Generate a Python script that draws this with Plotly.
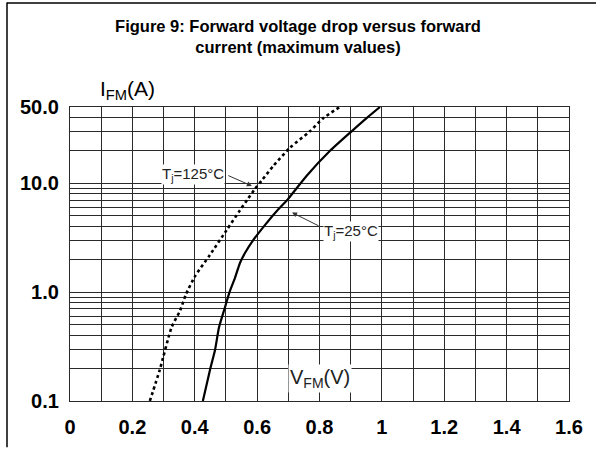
import math
import plotly.graph_objects as go

# ---- data ----
v_25 = [0.426, 0.449, 0.465, 0.478, 0.497, 0.511, 0.529, 0.545, 0.561, 0.588, 0.625, 0.668, 0.700, 0.759, 0.833, 0.903, 0.951, 0.994]
i_25 = [0.1, 0.194, 0.294, 0.477, 0.725, 0.99, 1.35, 1.85, 2.28, 3.01, 4.12, 5.75, 7.2, 11.7, 19.7, 29.9, 39.5, 50]

v_125 = [0.256, 0.288, 0.326, 0.353, 0.372, 0.401, 0.449, 0.502, 0.545, 0.571, 0.593, 0.614, 0.652, 0.705, 0.769, 0.812, 0.865]
i_125 = [0.1, 0.194, 0.477, 0.676, 0.956, 1.4, 2.2, 3.7, 5.63, 7.2, 8.85, 10.5, 14.4, 21.1, 29.9, 39.5, 50]

x_ticks = [0, 0.1, 0.2, 0.3, 0.4, 0.5, 0.6, 0.7, 0.8, 0.9, 1.0, 1.1, 1.2, 1.3, 1.4, 1.5, 1.6]
x_labels = ["0", "", "0.2", "", "0.4", "", "0.6", "", "0.8", "", "1", "", "1.2", "", "1.4", "", "1.6"]

y_ticks = [0.1, 0.2, 0.3, 0.4, 0.5, 0.6, 0.7, 0.8, 0.9,
           1, 2, 3, 4, 5, 6, 7, 8, 9,
           10, 20, 30, 40, 50]
y_label_map = {0.1: "0.1", 1: "1.0", 10: "10.0", 50: "50.0"}
y_labels = [y_label_map.get(v, "") for v in y_ticks]

title_text = "Figure 9: Forward voltage drop versus forward<br>current (maximum values)"

FONT = "Liberation Sans, Arial, sans-serif"
GRID = "#2a2a2a"

fig = go.Figure()
fig.add_trace(go.Scatter(x=v_125, y=i_125, mode="lines",
                         line=dict(color="black", width=2.6, dash="dot", shape="spline", smoothing=0.6),
                         showlegend=False, hoverinfo="skip"))
fig.add_trace(go.Scatter(x=v_25, y=i_25, mode="lines",
                         line=dict(color="black", width=2.2, shape="spline", smoothing=0.6),
                         showlegend=False, hoverinfo="skip"))

fig.update_layout(
    width=596, height=450, autosize=False,
    margin=dict(l=70, r=27, t=107, b=45),
    paper_bgcolor="white", plot_bgcolor="white",
    title=dict(text=title_text, x=0.5, xref="container", y=1 - 32 / 450, yanchor="middle",
               font=dict(family=FONT, size=16.5, color="black", weight="bold")),
    xaxis=dict(range=[0, 1.6], tickmode="array", tickvals=x_ticks, ticktext=x_labels,
               showgrid=True, gridcolor=GRID, gridwidth=1.2, zeroline=False,
               showline=True, linecolor=GRID, linewidth=1.2, mirror=True,
               ticks="", ticklabelstandoff=8,
               tickfont=dict(family=FONT, size=20, color="black", weight="bold")),
    yaxis=dict(type="log", range=[-1, math.log10(50)], tickmode="array", tickvals=y_ticks, ticktext=y_labels,
               showgrid=True, gridcolor=GRID, gridwidth=1.2, zeroline=False,
               showline=True, linecolor=GRID, linewidth=1.2, mirror=True,
               ticks="", ticklabelstandoff=6,
               tickfont=dict(family=FONT, size=20, color="black", weight="bold")),
)

lab_font = dict(family=FONT, size=15, color="#222")
# curve labels
fig.add_annotation(x=0.394, y=math.log10(12.1), text="T<sub>j</sub>=125°C", showarrow=False,
                   font=lab_font, bgcolor="white", borderpad=0)
fig.add_annotation(x=0.583, y=math.log10(9.43), text="", showarrow=True, ax=-25, ay=-11,
                   arrowhead=2, arrowsize=1, arrowwidth=1, arrowcolor="#333")
fig.add_annotation(x=0.901, y=math.log10(3.61), text="T<sub>j</sub>=25°C", showarrow=False,
                   font=lab_font, bgcolor="white", borderpad=0)
fig.add_annotation(x=0.712, y=math.log10(5.37), text="", showarrow=True, ax=28, ay=14,
                   arrowhead=2, arrowsize=1, arrowwidth=1, arrowcolor="#333")
# axis labels
fig.add_annotation(x=0.801, y=math.log10(0.161), text="V<sub>FM</sub>(V)", showarrow=False,
                   font=dict(family=FONT, size=20, color="#222"),
                   bgcolor="white", borderpad=1)
fig.add_annotation(xref="paper", yref="paper", x=(98 - 70) / 499, y=(405 - 75) / 298, text="I<sub>FM</sub>(A)",
                   showarrow=False, font=dict(family=FONT, size=21, color="black"))

# outer frame lines
fig.add_shape(type="line", xref="paper", yref="paper", x0=(7 - 70) / 499, x1=(7 - 70) / 499,
              y0=(405 - 452) / 298, y1=(405 - 1) / 298, line=dict(color="black", width=1.5))
fig.add_shape(type="line", xref="paper", yref="paper", x0=(7 - 70) / 499, x1=(600 - 70) / 499,
              y0=(405 - 1.5) / 298, y1=(405 - 1.5) / 298, line=dict(color="black", width=1.5))

fig.write_html("out.html", config={"displayModeBar": False},
               post_script="document.body.style.margin='0';document.body.style.padding='0';")
